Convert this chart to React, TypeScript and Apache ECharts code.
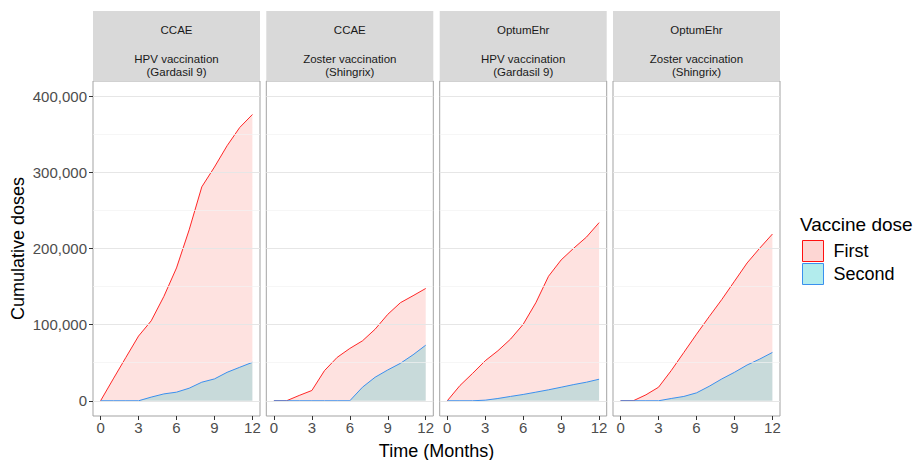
import React, { useEffect, useRef } from "react";
import * as echarts from "echarts";

// ---------- data ----------
const months = [0, 1, 2, 3, 4, 5, 6, 7, 8, 9, 10, 11, 12];
const panelSources = ["CCAE", "CCAE", "OptumEhr", "OptumEhr"];
const panelVaccines = [
  "HPV vaccination\n(Gardasil 9)",
  "Zoster vaccination\n(Shingrix)",
  "HPV vaccination\n(Gardasil 9)",
  "Zoster vaccination\n(Shingrix)",
];
const ccaeHpvFirst = [0, 28700, 57000, 85000, 105000, 137000, 174500, 224500, 281000, 307000, 335000, 359000, 376000];
const ccaeHpvSecond = [0, 0, 0, 0, 4800, 9000, 11300, 16500, 24400, 28700, 37400, 44000, 50500];
const ccaeZosterFirst = [0, 0, 7000, 13500, 39600, 57000, 68700, 78700, 94000, 113500, 128800, 138000, 147500];
const ccaeZosterSecond = [0, 0, 0, 0, 0, 0, 0, 17800, 30900, 40500, 49200, 60400, 73000];
const optumHpvFirst = [0, 20000, 36000, 52600, 65700, 81000, 100500, 128800, 163500, 185000, 200500, 215000, 234000];
const optumHpvSecond = [0, 0, 0, 800, 3000, 5700, 8300, 11300, 14400, 17800, 21300, 24400, 28300];
const optumZosterFirst = [0, 0, 7800, 17800, 39600, 63500, 87400, 110500, 133000, 157000, 181000, 200500, 219000];
const optumZosterSecond = [0, 0, 0, 0, 3000, 5700, 10400, 19000, 28700, 37400, 47000, 54800, 63500];
const firstDoses = [ccaeHpvFirst, ccaeZosterFirst, optumHpvFirst, optumZosterFirst];
const secondDoses = [ccaeHpvSecond, ccaeZosterSecond, optumHpvSecond, optumZosterSecond];
const doseNames = ["First", "Second"];
const yTicks = [0, 100000, 200000, 300000, 400000];
const yMinorTicks = [50000, 150000, 250000, 350000];
const xTicks = [0, 3, 6, 9, 12];

// ---------- layout / style ----------
const FONT = "'Liberation Sans', Arial, Helvetica, sans-serif";
const panelLefts = [93, 266.3, 439.7, 613];
const panelWidth = 167;
const panelTop = 81;
const panelHeight = 335;
const stripTop = 11;
const stripHeight = 70;
const redLine = "#FF1010";
const redFill = "rgba(248,118,109,0.3)";
const blueLine = "#3A90EE";
const blueFill = "rgba(0,191,196,0.3)";

export default function App() {
  const ref = useRef<HTMLDivElement>(null);

  useEffect(() => {
    if (!ref.current) return;
    const chart = echarts.init(ref.current, null, { renderer: "svg" });

    const grids: any[] = [];
    const xAxes: any[] = [];
    const yAxes: any[] = [];
    const series: any[] = [];
    const graphics: any[] = [];

    for (let i = 0; i < 4; i++) {
      grids.push({
        left: panelLefts[i],
        top: panelTop,
        width: panelWidth,
        height: panelHeight,
        show: true,
        backgroundColor: "#FFFFFF",
        borderColor: "#A3A3A3",
        borderWidth: 1,
      });
      xAxes.push({
        type: "value",
        gridIndex: i,
        min: -0.6,
        max: 12.6,
        axisLine: { show: false, onZero: false },
        axisTick: {
          show: true,
          length: 4,
          lineStyle: { color: "#333333", width: 1 },
          customValues: xTicks,
        },
        axisLabel: {
          show: true,
          customValues: xTicks,
          fontSize: 15,
          color: "#4D4D4D",
          fontFamily: FONT,
          margin: 4,
        },
        splitLine: { show: false },
      });
      yAxes.push({
        type: "value",
        gridIndex: i,
        min: -20000,
        max: 420000,
        axisLine: { show: false, onZero: false },
        axisTick: {
          show: i === 0,
          length: 4,
          lineStyle: { color: "#333333", width: 1 },
          customValues: yTicks,
        },
        axisLabel: {
          show: i === 0,
          customValues: yTicks,
          fontSize: 15,
          color: "#4D4D4D",
          fontFamily: FONT,
          margin: 6,
          formatter: (v: number) => v.toLocaleString("en-US"),
        },
        splitLine: { show: false },
        name: i === 0 ? "Cumulative doses" : "",
        nameLocation: "middle",
        nameRotate: 90,
        nameGap: 66,
        nameTextStyle: { fontSize: 18, color: "#000000", fontFamily: FONT },
      });

      // gridlines
      series.push({
        type: "line",
        name: "grid" + i,
        xAxisIndex: i,
        yAxisIndex: i,
        data: [],
        silent: true,
        z: 1,
        markLine: {
          silent: true,
          symbol: ["none", "none"],
          label: { show: false },
          emphasis: { disabled: true },
          data: [
            ...yMinorTicks.map((v) => ({
              yAxis: v,
              lineStyle: { color: "#F2F2F2", width: 0.7, type: "solid" },
            })),
            ...yTicks.map((v) => ({
              yAxis: v,
              lineStyle: { color: "#E6E6E6", width: 1, type: "solid" },
            })),
          ],
        },
      });

      series.push({
        type: "line",
        name: doseNames[0],
        xAxisIndex: i,
        yAxisIndex: i,
        data: months.map((m, j) => [m, firstDoses[i][j]]),
        symbol: "none",
        showSymbol: false,
        z: 2,
        lineStyle: { color: redLine, width: 0.9 },
        itemStyle: { color: redFill, borderColor: redLine },
        areaStyle: { color: redFill, origin: "auto" },
        emphasis: { disabled: true },
      });
      series.push({
        type: "line",
        name: doseNames[1],
        xAxisIndex: i,
        yAxisIndex: i,
        data: months.map((m, j) => [m, secondDoses[i][j]]),
        symbol: "none",
        showSymbol: false,
        z: 3,
        lineStyle: { color: blueLine, width: 1 },
        itemStyle: { color: blueFill, borderColor: blueLine },
        areaStyle: { color: blueFill, origin: "auto" },
        emphasis: { disabled: true },
      });

      // strip
      graphics.push({
        type: "rect",
        shape: { x: panelLefts[i], y: stripTop, width: panelWidth, height: stripHeight },
        style: { fill: "#D9D9D9" },
        silent: true,
      });
      graphics.push({
        type: "text",
        x: panelLefts[i] + panelWidth / 2,
        y: 30,
        silent: true,
        style: {
          text: panelSources[i],
          align: "center",
          verticalAlign: "middle",
          fontSize: 11.5,
          fontFamily: FONT,
          fill: "#1A1A1A",
        },
      });
      graphics.push({
        type: "text",
        x: panelLefts[i] + panelWidth / 2,
        y: 65.5,
        silent: true,
        style: {
          text: panelVaccines[i],
          align: "center",
          verticalAlign: "middle",
          fontSize: 11.5,
          lineHeight: 13,
          fontFamily: FONT,
          fill: "#1A1A1A",
        },
      });
    }

    graphics.push({
      type: "text",
      x: (panelLefts[0] + panelLefts[3] + panelWidth) / 2,
      y: 451,
      silent: true,
      style: {
        text: "Time (Months)",
        align: "center",
        verticalAlign: "middle",
        fontSize: 18,
        fontFamily: FONT,
        fill: "#000000",
      },
    });

    chart.setOption({
      animation: false,
      backgroundColor: "#FFFFFF",
      textStyle: { fontFamily: FONT },
      title: {
        text: "Vaccine dose",
        left: 800,
        top: 215,
        padding: 0,
        textStyle: { fontSize: 19, fontWeight: "normal", color: "#000000", fontFamily: FONT },
      },
      legend: {
        orient: "vertical",
        left: 802,
        top: 240,
        itemWidth: 21,
        itemHeight: 21,
        itemGap: 1,
        padding: 0,
        selectedMode: false,
        textStyle: { fontSize: 18, color: "#000000", fontFamily: FONT, padding: [0, 0, 0, 5] },
        data: [
          {
            name: doseNames[0],
            icon: "rect",
            itemStyle: { color: redFill, borderColor: redLine, borderWidth: 1 },
          },
          {
            name: doseNames[1],
            icon: "rect",
            itemStyle: { color: blueFill, borderColor: blueLine, borderWidth: 1 },
          },
        ],
      },
      grid: grids,
      xAxis: xAxes,
      yAxis: yAxes,
      series,
      graphic: graphics,
    });

    return () => chart.dispose();
  }, []);

  return (
    <div
      ref={ref}
      style={{ position: "fixed", left: 0, top: 0, width: 916, height: 460, background: "#FFFFFF" }}
    />
  );
}
